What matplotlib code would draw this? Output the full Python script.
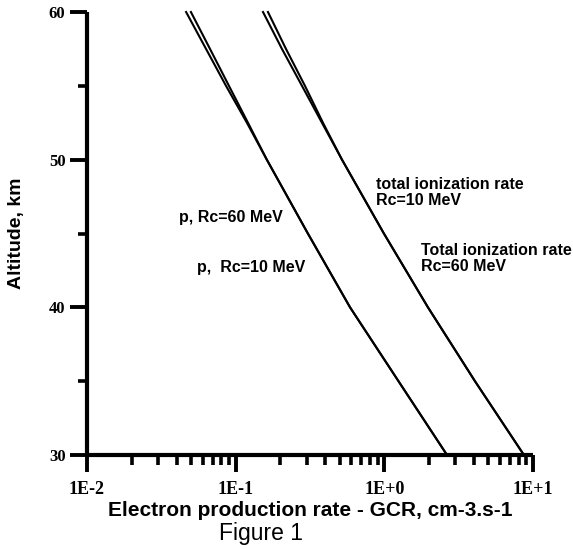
import matplotlib
matplotlib.use("Agg")
import matplotlib.pyplot as plt
from matplotlib.ticker import LogLocator, NullFormatter, FixedLocator

# Altitudes (km) and rates (cm-3 s-1)
alt = [60, 57.5, 55, 52.5, 50, 45, 40, 35, 30]

# proton contributions
p_rc60 = [0.0464, 0.0632, 0.0861, 0.119, 0.162, 0.306, 0.588, 1.245, 2.64]
p_rc10 = [0.0500, 0.0672, 0.0901, 0.121, 0.162, 0.306, 0.588, 1.245, 2.64]

# total ionization rate
tot_rc60 = [0.1527, 0.2048, 0.2792, 0.3805, 0.519, 0.993, 1.965, 4.07, 8.69]
tot_rc10 = [0.1649, 0.2180, 0.2924, 0.3865, 0.519, 0.993, 1.965, 4.07, 8.69]

xticks = [0.01, 0.1, 1, 10]
xticklabels = ["1E-2", "1E-1", "1E+0", "1E+1"]
yticks = [30, 40, 50, 60]
yminor = [35, 45, 55]

fig = plt.figure(figsize=(5.73, 5.49), dpi=100)
ax = fig.add_axes([87/573, 1-455/549, (533-87)/573, (455-12)/549])

for xs in (p_rc60, p_rc10, tot_rc60, tot_rc10):
    ax.plot(xs, alt, color="black", lw=1.5, clip_on=False, solid_joinstyle="round")

ax.set_xscale("log")
ax.set_xlim(0.01, 10)
ax.set_ylim(30, 60)

for s in ("top", "right"):
    ax.spines[s].set_visible(False)
for s in ("left", "bottom"):
    ax.spines[s].set_linewidth(3.0)
    ax.spines[s].set_capstyle("butt")

ax.xaxis.set_major_locator(FixedLocator(xticks))
ax.set_xticklabels(xticklabels)
ax.xaxis.set_minor_locator(LogLocator(base=10, subs=range(2, 10)))
ax.xaxis.set_minor_formatter(NullFormatter())
ax.yaxis.set_major_locator(FixedLocator(yticks))
ax.yaxis.set_minor_locator(FixedLocator(yminor))

ax.tick_params(axis="x", which="major", direction="out", length=12, width=2.8, pad=7)
ax.tick_params(axis="x", which="minor", direction="out", length=7, width=2.6)
ax.tick_params(axis="y", which="major", direction="out", length=12, width=2.8, pad=3.5)
ax.tick_params(axis="y", which="minor", direction="out", length=6.5, width=2.6)

for lab in ax.get_xticklabels():
    lab.set_fontfamily("Liberation Serif")
    lab.set_fontweight("bold")
    lab.set_fontsize(13)
for lab in ax.get_yticklabels():
    lab.set_fontfamily("Liberation Serif")
    lab.set_fontweight("bold")
    lab.set_fontsize(12)

ax.set_xlabel("Electron production rate - GCR, cm-3.s-1", fontfamily="Liberation Sans",
              fontweight="bold", fontsize=15)
ax.xaxis.set_label_coords(0.5, (455-516)/443)
ax.xaxis.label.set_va("baseline")
ax.set_ylabel("Altitude, km", fontfamily="Liberation Sans", fontweight="bold", fontsize=14)
ax.yaxis.set_label_coords((17-87)/446, 0.5)
ax.yaxis.label.set_va("center")

tkw = dict(fontfamily="Liberation Sans", fontweight="bold", fontsize=11.5, va="center", ha="left")
ax.text(0.878, 47.76, "total ionization rate\nRc=10 MeV", linespacing=1.1, **tkw)
ax.text(1.762, 43.3, "Total ionization rate\nRc=60 MeV", linespacing=1.1, **tkw)
ax.text(0.0416, 46.05, "p, Rc=60 MeV", **tkw)
ax.text(0.0549, 42.73, "p,  Rc=10 MeV", **tkw)

fig.text(261/573, 1-540/549, "Figure 1", fontfamily="Liberation Sans", fontsize=16.5,
         ha="center", va="baseline")

fig.savefig("out.png", dpi=100)
